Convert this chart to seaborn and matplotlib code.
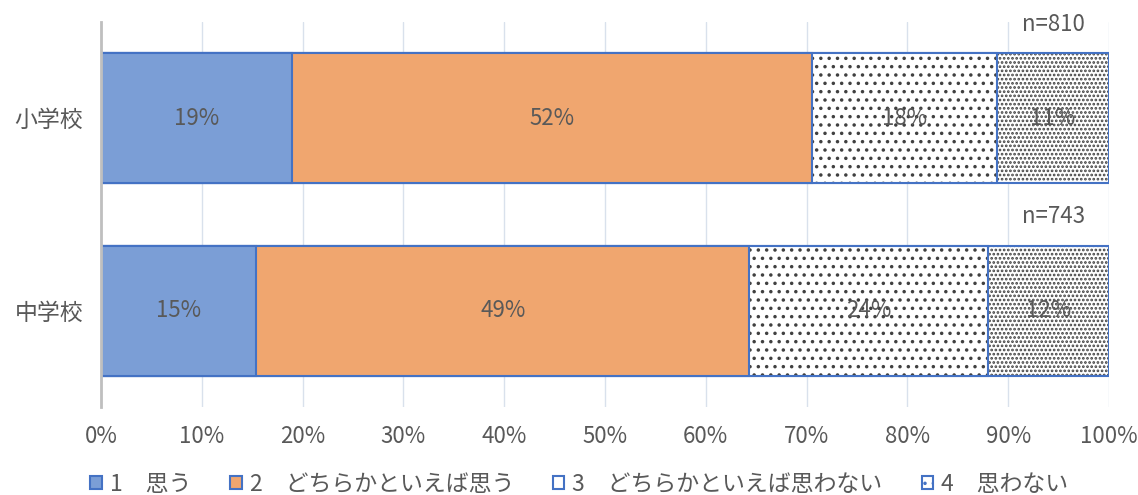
import numpy as np
import pandas as pd
import matplotlib
matplotlib.use('Agg')
import matplotlib.pyplot as plt
from matplotlib.patches import Patch
import seaborn as sns

# Data
schools = ['小学校', '中学校']
n_counts = [810, 743]
labels = ['1\u3000思う', '2\u3000どちらかといえば思う', '3\u3000どちらかといえば思わない', '4\u3000思わない']
v1 = [18.9, 15.4]   # 思う
v2 = [51.6, 48.9]   # どちらかといえば思う
v3 = [18.4, 23.7]   # どちらかといえば思わない
v4 = [11.1, 12.0]   # 思わない

sns.set_style('white')
plt.rcParams['font.family'] = ['Noto Sans CJK JP', 'DejaVu Sans']
plt.rcParams['hatch.linewidth'] = 1.3

EDGE = '#4472C4'
TEXT = '#595959'
FS_NUM = 16
FS_JP = 16.5
fills = ['#7B9ED6', '#F0A66F', 'white', 'white']
hatches = [None, None, '..', '....']

df = pd.DataFrame({'school': schools, 's1': v1, 's2': v2, 's3': v3, 's4': v4})
segs = ['s1', 's2', 's3', 's4']
cum = df[segs].cumsum(axis=1)
for s in segs:
    df['c' + s] = cum[s]

fig = plt.figure(figsize=(11.38, 4.95), dpi=100)
ax = fig.add_axes([0.0888, 0.1778, 0.8857, 0.7778])

BAR_W = 0.675
# draw cumulative bars from back to front so segments stack
for i in reversed(range(4)):
    col = 'c' + segs[i]
    before = len(ax.patches)
    sns.barplot(data=df, x=col, y='school', orient='h', color=fills[i],
                width=BAR_W, errorbar=None, ax=ax, zorder=2)
    for p in ax.patches[before:]:
        p.set_facecolor(fills[i])
        p.set_edgecolor('#404040')
        p.set_linewidth(0)
        if hatches[i]:
            p.set_hatch(hatches[i])
    before = len(ax.patches)
    sns.barplot(data=df, x=col, y='school', orient='h', color=EDGE, fill=False,
                width=BAR_W, errorbar=None, ax=ax, zorder=2)
    for p in ax.patches[before:]:
        p.set_fill(False)
        p.set_edgecolor(EDGE)
        p.set_linewidth(1.5)

# percent labels
for j in range(len(schools)):
    left = 0
    for s in segs:
        val = df.loc[j, s]
        ax.text(left + val / 2, j, f'{val:.0f}%', ha='center', va='center',
                fontsize=FS_NUM, color=TEXT, zorder=5)
        left += val
    ax.text(97.6, j - BAR_W / 2 - 0.09, f'n={n_counts[j]}', ha='right', va='bottom',
            fontsize=FS_NUM, color=TEXT, clip_on=False)

ax.set_xlim(0, 100)
ax.set_ylim(1.5, -0.5)
ax.set_xticks(np.arange(0, 101, 10))
ax.set_xticklabels([f'{t}%' for t in range(0, 101, 10)])
ax.xaxis.grid(True, color='#D9E1EC', linewidth=1)
ax.set_axisbelow(True)
ax.set_xlabel('')
ax.set_ylabel('')
for side in ['top', 'right', 'bottom']:
    ax.spines[side].set_visible(False)
ax.spines['left'].set_color('#BFBFBF')
ax.spines['left'].set_linewidth(2)
ax.tick_params(axis='x', length=0, labelsize=FS_NUM, labelcolor=TEXT, pad=13)
ax.tick_params(axis='y', length=0, labelsize=FS_JP, labelcolor=TEXT, pad=13)

# legend
handles = [Patch(facecolor=fills[i], edgecolor=EDGE, linewidth=1.5) for i in range(3)]
handles.append(Patch(facecolor='white', edgecolor=EDGE, hatch='..', linewidth=1.5))
leg = fig.legend(handles, labels, loc='center', bbox_to_anchor=(0.509, 0.022),
                 ncol=4, frameon=False, fontsize=FS_JP, handlelength=0.5,
                 handleheight=0.5, handletextpad=0.35, columnspacing=1.7)
for t in leg.get_texts():
    t.set_color(TEXT)

fig.savefig('out.png', dpi=100)
